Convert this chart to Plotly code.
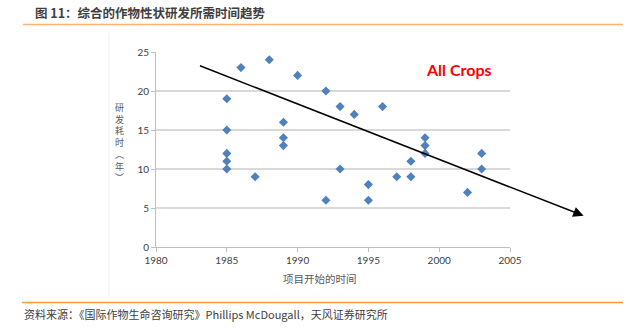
import plotly.graph_objects as go

# ---- data ----
years = [1985, 1985, 1985, 1985, 1985, 1986, 1987, 1988, 1989, 1989, 1989, 1990,
         1992, 1992, 1993, 1993, 1994, 1995, 1995, 1996, 1997, 1998, 1998,
         1999, 1999, 1999, 2002, 2003, 2003]
durations = [19, 15, 12, 11, 10, 23, 9, 24, 16, 14, 13, 22,
             20, 6, 18, 10, 17, 8, 6, 18, 9, 11, 9,
             14, 13, 12, 7, 12, 10]
x_ticks = [1980, 1985, 1990, 1995, 2000, 2005]
y_ticks = [0, 5, 10, 15, 20, 25]
y_title = "研发耗时︵年︶"
# trend arrow (data units): start and end
trend_x = [1983.0, 2010.2]
trend_y = [23.3, 4.0]

W, H = 637, 328
L, R, T, B = 156, 127, 52, 81
XR = [1980, 2005]
YR = [0, 25]
pw, ph = W - L - R, H - T - B

def px_x(px):
    return (px - L) / pw

def px_y(py):
    return (H - B - py) / ph

def dx_paper(v):
    return (v - XR[0]) / (XR[1] - XR[0])

def dy_paper(v):
    return (v - YR[0]) / (YR[1] - YR[0])

fig = go.Figure()
fig.add_trace(go.Scatter(
    x=years, y=durations, mode="markers",
    marker=dict(symbol="diamond", size=7, color="#4F81BD", line=dict(width=0)),
    showlegend=False, cliponaxis=False))

axis_font = dict(family="Lato, Liberation Sans, sans-serif", size=10, color="#404040")
fig.update_xaxes(range=XR, tickvals=x_ticks, ticktext=[str(v) for v in x_ticks],
                 showgrid=False, showline=True, linecolor="#BFBFBF", linewidth=1,
                 ticks="outside", ticklen=4, tickcolor="#BFBFBF", tickfont=axis_font,
                 zeroline=False, fixedrange=True)
fig.update_yaxes(range=YR, tickvals=y_ticks, showgrid=True, gridcolor="#D9D9D9", gridwidth=1.5,
                 showline=True, linecolor="#BFBFBF", linewidth=1,
                 ticks="outside", ticklen=4, tickcolor="#BFBFBF", tickfont=axis_font,
                 zeroline=False, fixedrange=True)

cjk = "Noto Sans CJK SC, sans-serif"
ann = []
# heading
ann.append(dict(text="<b>图 11：综合的作物性状研发所需时间趋势</b>", xref="paper", yref="paper",
                x=px_x(33), y=px_y(12), xanchor="left", yanchor="middle", showarrow=False,
                font=dict(family=cjk, size=12.5, color="#3F3F3F")))
# source
ann.append(dict(text="资料来源：《国际作物生命咨询研究》Phillips McDougall，天风证券研究所",
                xref="paper", yref="paper", x=px_x(22), y=px_y(314), xanchor="left",
                yanchor="middle", showarrow=False,
                font=dict(family=cjk, size=11, color="#404040")))
# axis titles
ann.append(dict(text="项目开始的时间", xref="paper", yref="paper", x=px_x(320), y=px_y(278),
                xanchor="center", yanchor="middle", showarrow=False,
                font=dict(family=cjk, size=10.5, color="#595959")))
# vertical y-axis title (stacked characters)
ann.append(dict(text="<br>".join(list(y_title)), xref="paper", yref="paper",
                x=px_x(119), y=px_y(142), xanchor="center", yanchor="middle",
                showarrow=False, borderpad=0,
                font=dict(family=cjk, size=9, color="#595959")))
# All Crops label
ann.append(dict(text="<b>All Crops</b>", xref="paper", yref="paper", x=px_x(459), y=px_y(69),
                xanchor="center", yanchor="middle", showarrow=False,
                font=dict(family="Lato, Liberation Sans, sans-serif", size=16, color="#FF0000")))
# trend arrow
x0p, y0p = dx_paper(trend_x[0]), dy_paper(trend_y[0])
x1p, y1p = dx_paper(trend_x[1]), dy_paper(trend_y[1])
ann.append(dict(text="", xref="paper", yref="paper", x=x1p, y=y1p,
                axref="pixel", ayref="pixel",
                ax=(x0p - x1p) * pw, ay=-(y0p - y1p) * ph,
                showarrow=True, arrowhead=2, arrowsize=1.3, arrowwidth=1.6, arrowcolor="#000000",
                standoff=0))

shapes = [
    dict(type="line", xref="paper", yref="paper", x0=px_x(23), x1=px_x(623), y0=px_y(24.5), y1=px_y(24.5),
         line=dict(color="#FFB26E", width=1.5)),
    dict(type="line", xref="paper", yref="paper", x0=px_x(22), x1=px_x(623), y0=px_y(302.5), y1=px_y(302.5),
         line=dict(color="#F7993A", width=1.5)),
    dict(type="line", xref="paper", yref="paper", x0=px_x(109), x1=px_x(109), y0=px_y(33), y1=px_y(296),
         line=dict(color="#EEEEEE", width=1)),
]

fig.update_layout(width=W, height=H, margin=dict(l=L, r=R, t=T, b=B, autoexpand=False),
                  paper_bgcolor="white", plot_bgcolor="white",
                  annotations=ann, shapes=shapes, showlegend=False)

fig.write_html("out.html", config={"displayModeBar": False})
